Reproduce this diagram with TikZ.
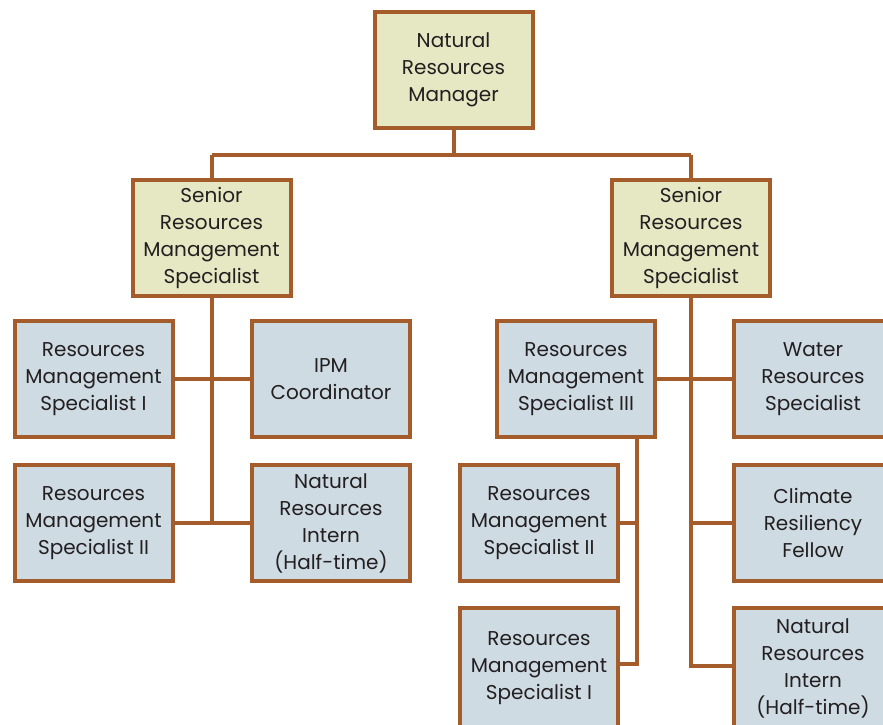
\documentclass[tikz,border=0pt]{standalone}
\usepackage{fontspec}
\setmainfont{Poppins}
\usetikzlibrary{backgrounds}
\definecolor{edgebrown}{HTML}{A35C2A}
\definecolor{headfill}{HTML}{E6E7C3}
\definecolor{staff}{HTML}{CEDBE3}
\definecolor{inkgray}{HTML}{231F20}
\begin{document}
\begin{tikzpicture}[x=1pt,y=-1pt,
  box/.style={draw=edgebrown,line width=4pt,minimum width=158pt,minimum height=116pt,
    align=center,inner sep=2pt,text=inkgray,
    font=\fontsize{20}{27}\selectfont},
  lead/.style={box,fill=headfill},
  member/.style={box,fill=staff},
  link/.style={draw=edgebrown,line width=4pt}]
\useasboundingbox (0,0) rectangle (883,724);
\begin{scope}
\clip (0,0) rectangle (883,724);
% managers
\node[lead] (mgr) at (453.5,70) {Natural\\Resources\\Manager};
\node[lead] (sl) at (211.5,238) {Senior\\Resources\\Management\\Specialist};
\node[lead] (sr) at (691,238) {Senior\\Resources\\Management\\Specialist};
% left team
\node[member] (la1) at (93.5,379) {Resources\\Management\\Specialist I};
\node[member] (ipm) at (331,379) {IPM\\Coordinator};
\node[member] (la2) at (93.5,523) {Resources\\Management\\Specialist II};
\node[member] (lint) at (331,523) {Natural\\Resources\\Intern\\(Half-time)};
% right team
\node[member] (rb3) at (576,379) {Resources\\Management\\Specialist III};
\node[member] (water) at (813,379) {Water\\Resources\\Specialist};
\node[member] (rb2) at (539,523) {Resources\\Management\\Specialist II};
\node[member] (clim) at (813,523) {Climate\\Resiliency\\Fellow};
% the bottom row runs past the lower edge
\node[member, minimum height=120pt] (rb1) at (539,668) {Resources\\Management\\Specialist I};
\node[member, minimum height=120pt] (rint) at (813,668) {Natural\\Resources\\Intern\\(Half-time)};
% junction points
\coordinate (top) at (453.5,155);
\coordinate (lt) at (211.5,155);
\coordinate (rt) at (691,155);
\coordinate (lend) at (211.5,521);
\coordinate (rend) at (691,666);
\coordinate (subend) at (637,664);
\begin{scope}[on background layer]
\draw[link] (mgr.south) -- (top);
\draw[link] (lt) -- (rt);
\draw[link] (lt) -- (sl.north);
\draw[link] (rt) -- (sr.north);
\draw[link] (sl.south) -- (lend);
\draw[link] (la1.east) -- (ipm.west);
\draw[link] (la2.east) -- (lint.west);
\draw[link] (sr.south) -- (rend) -- (rend -| rint.west);
\draw[link] (rb3.east) -- (water.west);
\draw[link] (clim.west) -- (clim.west -| rend);
\draw[link] (rb3.south -| subend) -- (subend) -- (subend -| rb1.east);
\draw[link] (rb2.east) -- (rb2.east -| subend);
\end{scope}
\end{scope}
\end{tikzpicture}
\end{document}
